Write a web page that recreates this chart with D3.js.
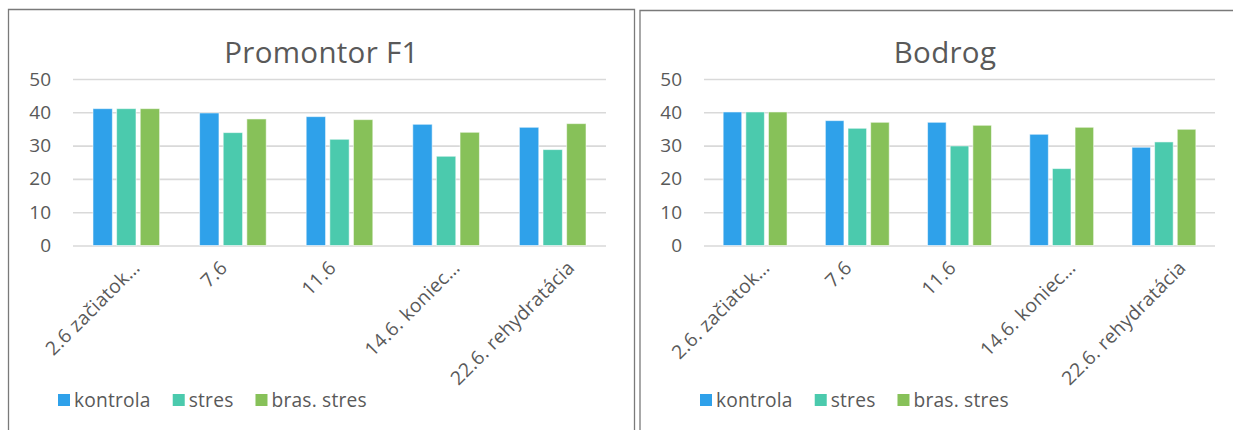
<!DOCTYPE html>
<html>
<head>
<meta charset="utf-8">
<script src="https://cdn.jsdelivr.net/npm/d3@7"></script>
<style>
  html, body { margin: 0; padding: 0; background: #fff; }
  svg { display: block; }
  text { font-family: "Open Sans", Lato, sans-serif; fill: #595959; }
</style>
</head>
<body>
<svg id="chart" width="1233" height="430"></svg>
<script>
// Series and categories
const seriesNames = ["kontrola", "stres", "bras. stres"];
const seriesColors = ["#2FA1EA", "#4BCAAD", "#87C159"];
const yTicks = [0, 10, 20, 30, 40, 50];

const promontorCategories = ["2.6 začiatok…", "7.6", "11.6", "14.6. koniec…", "22.6. rehydratácia"];
const promontorKontrola = [41.1, 39.8, 38.7, 36.4, 35.5];
const promontorStres = [41.1, 33.9, 31.9, 26.8, 28.8];
const promontorBras = [41.1, 38.0, 37.8, 34.0, 36.6];

const bodrogCategories = ["2.6. začiatok…", "7.6", "11.6", "14.6. koniec…", "22.6. rehydratácia"];
const bodrogKontrola = [40.1, 37.5, 37.0, 33.4, 29.5];
const bodrogStres = [40.1, 35.2, 29.9, 23.1, 31.1];
const bodrogBras = [40.1, 37.0, 36.1, 35.5, 34.9];

const FONT = "'Open Sans', Lato, sans-serif";
const LABEL_SIZE = 19.2;
const svg = d3.select("#chart");

function drawPanel(cfg) {
  const g = svg.append("g");

  // panel frame
  g.append("path")
    .attr("d", `M${cfg.frame[0]},${cfg.frameBottom} V${cfg.frameTop} H${cfg.frame[1]} V${cfg.frameBottom}`)
    .attr("fill", "none").attr("stroke", "#7a7a7a").attr("stroke-width", 1.3);

  // title
  g.append("text")
    .attr("x", (cfg.frame[0] + cfg.frame[1]) / 2)
    .attr("y", 63)
    .attr("text-anchor", "middle")
    .attr("font-size", 29.5)
    .attr("letter-spacing", 0.3)
    .text(cfg.title);

  const x0 = d3.scaleBand().domain(cfg.categories).range(cfg.xRange)
    .paddingInner(0.375).paddingOuter(0.1875);
  const x1 = d3.scaleBand().domain(seriesNames).range([0, x0.bandwidth()]).paddingInner(0.18);
  const y = d3.scaleLinear().domain([0, 50]).range([245.5, 79]);

  // gridlines + y labels
  const yAxis = d3.axisLeft(y).tickValues(yTicks)
    .tickSize(-(cfg.xRange[1] - cfg.xRange[0])).tickPadding(22);
  const ya = g.append("g").attr("transform", `translate(${cfg.xRange[0]},0)`).call(yAxis);
  ya.select(".domain").remove();
  ya.selectAll(".tick line").attr("stroke", "#d9d9d9").attr("stroke-width", 1.6);
  ya.selectAll(".tick text").attr("font-size", 19).attr("fill", "#595959")
    .attr("font-family", FONT);

  // bars
  const rows = cfg.categories.map((c, i) => ({ cat: c, vals: cfg.series.map(s => s[i]) }));
  const grp = g.selectAll("g.grp").data(rows).join("g")
    .attr("transform", d => `translate(${x0(d.cat)},0)`);
  grp.selectAll("rect").data(d => d.vals.map((v, k) => ({ k, v }))).join("rect")
    .attr("x", d => x1(seriesNames[d.k]))
    .attr("width", x1.bandwidth())
    .attr("y", d => y(d.v))
    .attr("height", d => y(0) - y(d.v))
    .attr("fill", d => seriesColors[d.k])
    .attr("stroke", "#ffffff").attr("stroke-opacity", 0.55).attr("stroke-width", 1);

  // rotated category labels
  const labels = g.selectAll("text.cat").data(cfg.categories).join("text")
    .attr("class", "cat")
    .attr("font-size", LABEL_SIZE)
    .attr("letter-spacing", 0.3)
    .attr("text-anchor", "end")
    .text(d => d);
  labels.each(function (d) {
    const L = this.getComputedTextLength();
    const cx = x0(d) + x0.bandwidth() / 2;
    const ex = cx + 0.2 * L - 10;
    d3.select(this).attr("transform", `translate(${ex},${269}) rotate(-45)`);
  });

  // legend
  const lg = g.append("g").attr("transform", `translate(${cfg.legendX},400)`);
  let off = 0;
  seriesNames.forEach((name, k) => {
    lg.append("rect").attr("x", off).attr("y", -6).attr("width", 12).attr("height", 12)
      .attr("fill", seriesColors[k]);
    const t = lg.append("text").attr("x", off + 16).attr("y", 7)
      .attr("font-size", LABEL_SIZE).attr("letter-spacing", 0.2).text(name);
    off += 16 + t.node().getComputedTextLength() + 22;
  });
}

drawPanel({
  title: "Promontor F1",
  frame: [8.5, 634.5], frameTop: 9.5, frameBottom: 432,
  xRange: [73, 606],
  categories: promontorCategories,
  series: [promontorKontrola, promontorStres, promontorBras],
  legendX: 58
});

drawPanel({
  title: "Bodrog",
  frame: [640, 1250], frameTop: 10.5, frameBottom: 432,
  xRange: [704, 1215],
  categories: bodrogCategories,
  series: [bodrogKontrola, bodrogStres, bodrogBras],
  legendX: 700
});
</script>
</body>
</html>
